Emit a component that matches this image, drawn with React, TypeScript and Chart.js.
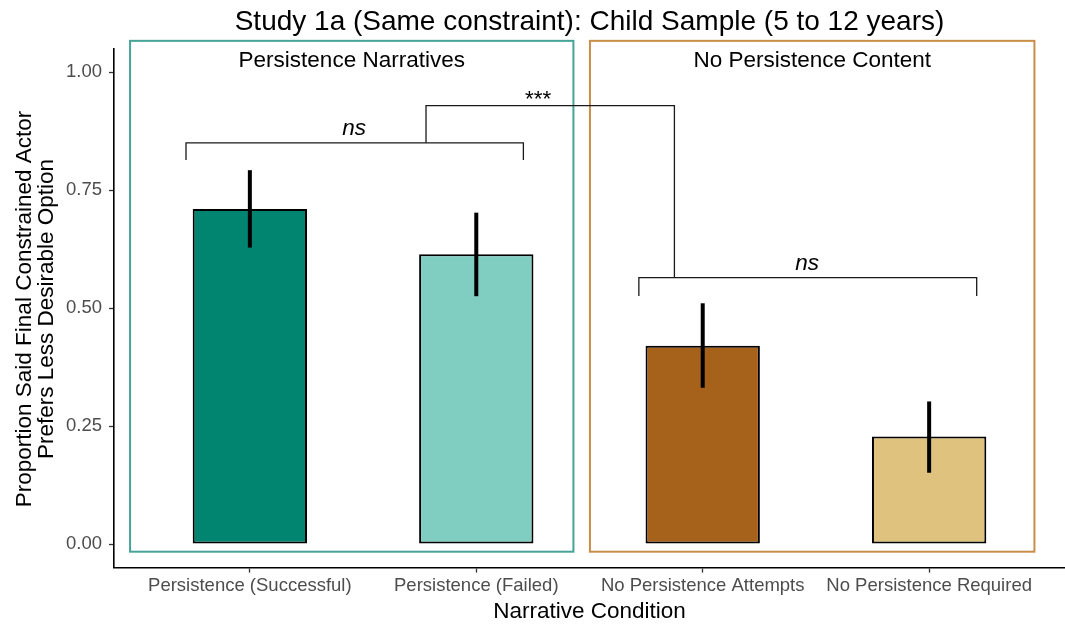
import React, { useEffect, useRef } from "react";
import { Chart, registerables } from "chart.js";

Chart.register(...registerables);

// ---------- data ----------
const categories = [
  "Persistence (Successful)",
  "Persistence (Failed)",
  "No Persistence Attempts",
  "No Persistence Required",
];
const categoryPositions = [1, 2, 3, 4];
const proportions = [0.71, 0.614, 0.42, 0.228];
const errorLow = [0.628, 0.525, 0.331, 0.151];
const errorHigh = [0.792, 0.702, 0.51, 0.302];
const barColors = ["#018571", "#80cdc1", "#a6611a", "#dfc27d"];
const yTicks = [0, 0.25, 0.5, 0.75, 1];

const titleText = "Study 1a (Same constraint): Child Sample (5 to 12 years)";
const yTitleLines = ["Proportion Said Final Constrained Actor", "Prefers Less Desirable Option"];
const xTitleText = "Narrative Condition";

// group boxes (in axis units)
const groupLabels = ["Persistence Narratives", "No Persistence Content"];
const groupStarts = [0.471, 2.502];
const groupEnds = [2.429, 4.465];
const groupColors = ["#45a497", "#c98e47"];
const groupBoxBottom = -0.0163;
const groupBoxTop = 1.066;
const groupLabelY = 1.011;

// significance annotations (in axis units)
const bracketLeftX = [0.718, 2.208];
const bracketLeftY = [0.8136, 0.85];
const bracketRightX = [2.718, 4.21];
const bracketRightY = [0.5254, 0.5642];
const bracketTopX = [1.778, 2.875];
const bracketTopY = 0.9286;
const sigLabels = ["ns", "***", "ns"];
const sigLabelX = [1.46, 2.273, 3.461];
const sigLabelY = [0.8665, 0.928, 0.5805];

const FONT = '"Liberation Sans", Arial, Helvetica, sans-serif';

const overlayPlugin = {
  id: "overlay",
  beforeDatasetsDraw(chart: any) {
    const { ctx, scales } = chart;
    const xs = scales.x;
    const ys = scales.y;
    ctx.save();
    ctx.lineWidth = 2;
    for (let i = 0; i < groupLabels.length; i++) {
      const x0 = xs.getPixelForValue(groupStarts[i]);
      const x1 = xs.getPixelForValue(groupEnds[i]);
      const y0 = ys.getPixelForValue(groupBoxTop);
      const y1 = ys.getPixelForValue(groupBoxBottom);
      ctx.strokeStyle = groupColors[i];
      ctx.strokeRect(x0, y0, x1 - x0, y1 - y0);
      ctx.fillStyle = "#000";
      ctx.font = `22.5px ${FONT}`;
      ctx.textAlign = "center";
      ctx.textBaseline = "alphabetic";
      ctx.fillText(groupLabels[i], (x0 + x1) / 2, ys.getPixelForValue(groupLabelY));
    }
    ctx.restore();
  },
  afterDatasetsDraw(chart: any) {
    const { ctx, scales, chartArea } = chart;
    const xs = scales.x;
    const ys = scales.y;
    ctx.save();
    // error bars
    ctx.strokeStyle = "#000";
    ctx.lineWidth = 4;
    ctx.lineCap = "butt";
    for (let i = 0; i < categoryPositions.length; i++) {
      const x = xs.getPixelForValue(categoryPositions[i]);
      ctx.beginPath();
      ctx.moveTo(x, ys.getPixelForValue(errorLow[i]));
      ctx.lineTo(x, ys.getPixelForValue(errorHigh[i]));
      ctx.stroke();
    }
    // brackets
    ctx.lineWidth = 1.3;
    ctx.strokeStyle = "#1a1a1a";
    const px = (v: number) => xs.getPixelForValue(v);
    const py = (v: number) => ys.getPixelForValue(v);
    ctx.beginPath();
    ctx.moveTo(px(bracketLeftX[0]), py(bracketLeftY[0]));
    ctx.lineTo(px(bracketLeftX[0]), py(bracketLeftY[1]));
    ctx.lineTo(px(bracketLeftX[1]), py(bracketLeftY[1]));
    ctx.lineTo(px(bracketLeftX[1]), py(bracketLeftY[0]));
    ctx.stroke();
    ctx.beginPath();
    ctx.moveTo(px(bracketRightX[0]), py(bracketRightY[0]));
    ctx.lineTo(px(bracketRightX[0]), py(bracketRightY[1]));
    ctx.lineTo(px(bracketRightX[1]), py(bracketRightY[1]));
    ctx.lineTo(px(bracketRightX[1]), py(bracketRightY[0]));
    ctx.stroke();
    ctx.beginPath();
    ctx.moveTo(px(bracketTopX[0]), py(bracketLeftY[1]));
    ctx.lineTo(px(bracketTopX[0]), py(bracketTopY));
    ctx.lineTo(px(bracketTopX[1]), py(bracketTopY));
    ctx.lineTo(px(bracketTopX[1]), py(bracketRightY[1]));
    ctx.stroke();
    // significance labels
    ctx.fillStyle = "#000";
    ctx.textAlign = "center";
    ctx.textBaseline = "alphabetic";
    for (let i = 0; i < sigLabels.length; i++) {
      ctx.font = sigLabels[i] === "ns" ? `italic 22.5px ${FONT}` : `22.5px ${FONT}`;
      ctx.fillText(sigLabels[i], px(sigLabelX[i]), py(sigLabelY[i]));
    }
    // title
    ctx.font = `28px ${FONT}`;
    ctx.fillText(titleText, (chartArea.left + chartArea.right) / 2, 29.5);
    // x title
    ctx.font = `22.5px ${FONT}`;
    ctx.fillText(xTitleText, (chartArea.left + chartArea.right) / 2, 618);
    // y title
    const yc = (chartArea.top + chartArea.bottom) / 2 + 1;
    const xPos = [31, 53];
    for (let i = 0; i < yTitleLines.length; i++) {
      ctx.save();
      ctx.translate(xPos[i], yc);
      ctx.rotate(-Math.PI / 2);
      ctx.fillText(yTitleLines[i], 0, 0);
      ctx.restore();
    }
    ctx.restore();
  },
};

export default function App() {
  const canvasRef = useRef<HTMLCanvasElement | null>(null);

  useEffect(() => {
    const canvas = canvasRef.current;
    if (!canvas) return;
    const chart = new Chart(canvas, {
      type: "bar",
      data: {
        datasets: [
          {
            data: categoryPositions.map((x, i) => ({ x, y: proportions[i] })),
            backgroundColor: barColors,
            borderColor: "#000",
            borderWidth: 2,
            borderSkipped: false,
            barPercentage: 0.505,
            categoryPercentage: 1,
          },
        ],
      },
      options: {
        animation: false,
        responsive: false,
        devicePixelRatio: 1,
        layout: { padding: { top: 48.4, right: 0, left: 0, bottom: 0 } },
        plugins: {
          legend: { display: false },
          title: { display: false },
          tooltip: { enabled: false },
        },
        scales: {
          x: {
            type: "linear",
            min: 0.4,
            max: 4.6,
            offset: false,
            afterBuildTicks: (scale: any) => {
              scale.ticks = categoryPositions.map((v) => ({ value: v }));
            },
            afterFit: (scale: any) => {
              scale.height = 627 - 567.6;
            },
            ticks: {
              autoSkip: false,
              maxRotation: 0,
              padding: 2,
              color: "#4d4d4d",
              font: { family: FONT, size: 18.5 },
              callback: (v: any) => categories[categoryPositions.indexOf(Number(v))] ?? "",
            },
            grid: {
              display: true,
              offset: false,
              drawOnChartArea: false,
              drawTicks: true,
              tickLength: 5,
              tickWidth: 1.3,
              tickColor: "#333",
            },
            border: { display: true, color: "#000", width: 1.6 },
          },
          y: {
            type: "linear",
            min: -0.05,
            max: 1.05,
            afterBuildTicks: (scale: any) => {
              scale.ticks = yTicks.map((v) => ({ value: v }));
            },
            afterFit: (scale: any) => {
              scale.width = 114;
            },
            ticks: {
              padding: 7,
              color: "#4d4d4d",
              font: { family: FONT, size: 18.5 },
              callback: (v: any) => Number(v).toFixed(2),
            },
            grid: {
              display: true,
              drawOnChartArea: false,
              drawTicks: true,
              tickLength: 5,
              tickWidth: 1.3,
              tickColor: "#333",
            },
            border: { display: true, color: "#000", width: 1.6 },
          },
        },
      },
      plugins: [overlayPlugin],
    } as any);
    return () => chart.destroy();
  }, []);

  return (
    <div style={{ position: "fixed", left: 0, top: 0, width: 1065, height: 627, background: "#fff" }}>
      <canvas ref={canvasRef} width={1065} height={627} style={{ width: 1065, height: 627 }} />
    </div>
  );
}
